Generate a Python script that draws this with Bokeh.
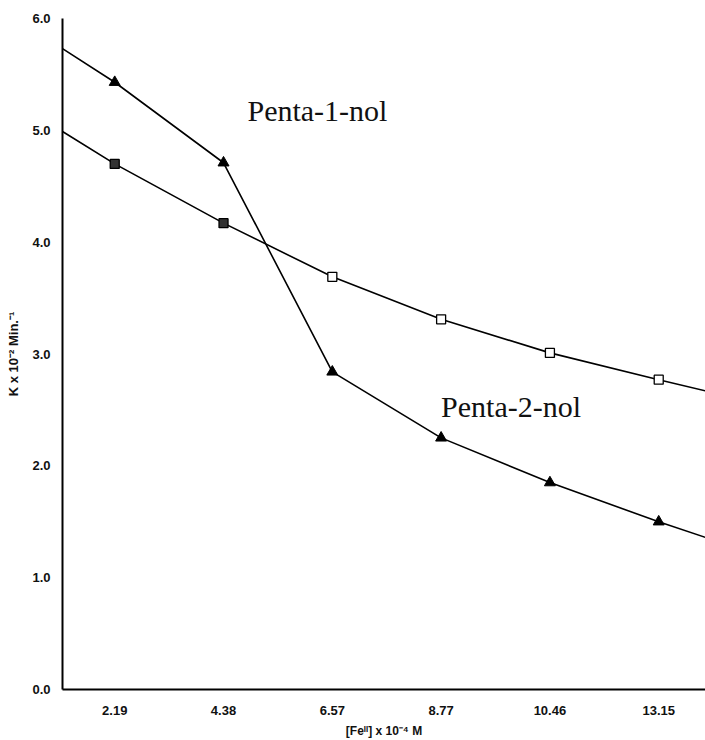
from bokeh.plotting import figure
from bokeh.models import Range1d, FixedTicker, Label
from bokeh.embed import file_html
from bokeh.resources import INLINE

# --- data ---
fe_labels = ["2.19", "4.38", "6.57", "8.77", "10.46", "13.15"]
tri_values = [5.43, 4.71, 2.84, 2.25, 1.85, 1.50]
sq_values = [4.70, 4.17, 3.69, 3.31, 3.01, 2.77]
# line values where the drawn lines meet the left and right edges
tri_edges = [5.73, 1.36]
sq_edges = [4.99, 2.67]
y_ticks = [0, 1, 2, 3, 4, 5, 6]

x_lo, x_hi = 0.52, 6.43
xs = list(range(1, len(fe_labels) + 1))

p = figure(width=705, height=740, output_backend="svg", toolbar_location=None,
           x_range=Range1d(x_lo, x_hi), y_range=Range1d(0, 6),
           min_border_left=62, min_border_right=0, min_border_top=18,
           min_border_bottom=51)
p.outline_line_color = None
p.grid.visible = False
p.background_fill_color = "white"
p.border_fill_color = "white"

# lines extended to the frame edges
p.line([x_lo] + xs + [x_hi], [tri_edges[0]] + tri_values + [tri_edges[1]],
       line_color="black", line_width=1.6)
p.line([x_lo] + xs + [x_hi], [sq_edges[0]] + sq_values + [sq_edges[1]],
       line_color="black", line_width=1.6)

p.scatter(xs, tri_values, marker="triangle", size=11, fill_color="black",
          line_color="black")
sq_fill = ["#333333", "#333333", "white", "white", "white", "white"]
p.scatter(xs, sq_values, marker="square", size=9, fill_color=sq_fill,
          line_color="black", line_width=1.3)

for ax in (p.xaxis, p.yaxis):
    ax.axis_line_width = 2
    ax.axis_line_color = "black"
    ax.major_tick_line_color = None
    ax.minor_tick_line_color = None
    ax.major_label_text_font = "Liberation Sans"
    ax.major_label_text_font_style = "bold"
    ax.major_label_text_font_size = "13px"
    ax.major_label_text_color = "#111111"
    ax.axis_label_text_font = "Liberation Sans"
    ax.axis_label_text_font_style = "bold"
    ax.axis_label_text_color = "#111111"

p.xaxis.ticker = FixedTicker(ticks=xs)
p.xaxis.major_label_overrides = {x: lab for x, lab in zip(xs, fe_labels)}
p.xaxis.major_label_standoff = 10
p.xaxis.axis_label = "[Fe\u1d35\u1d35] x 10\u207b\u2074 M"
p.xaxis.axis_label_text_font_size = "12px"
p.xaxis.axis_label_standoff = 6

p.yaxis.ticker = FixedTicker(ticks=y_ticks)
p.yaxis.major_label_overrides = {t: f"{t:.1f}" for t in y_ticks}
p.yaxis.major_label_standoff = 6
p.yaxis.axis_label = "K x 10\u207b\u00b2 Min.\u207b\u00b9"
p.yaxis.axis_label_text_font_size = "13px"
p.yaxis.axis_label_standoff = 8

p.add_layout(Label(x=2.22, y=5.18, text="Penta-1-nol", text_font="Liberation Serif",
                   text_font_size="30px", text_align="left",
                   text_baseline="alphabetic", text_color="#111111"))
p.add_layout(Label(x=4.0, y=2.53, text="Penta-2-nol", text_font="Liberation Serif",
                   text_font_size="30px", text_align="left",
                   text_baseline="alphabetic", text_color="#111111"))

open("out.html", "w").write(file_html(p, INLINE))
